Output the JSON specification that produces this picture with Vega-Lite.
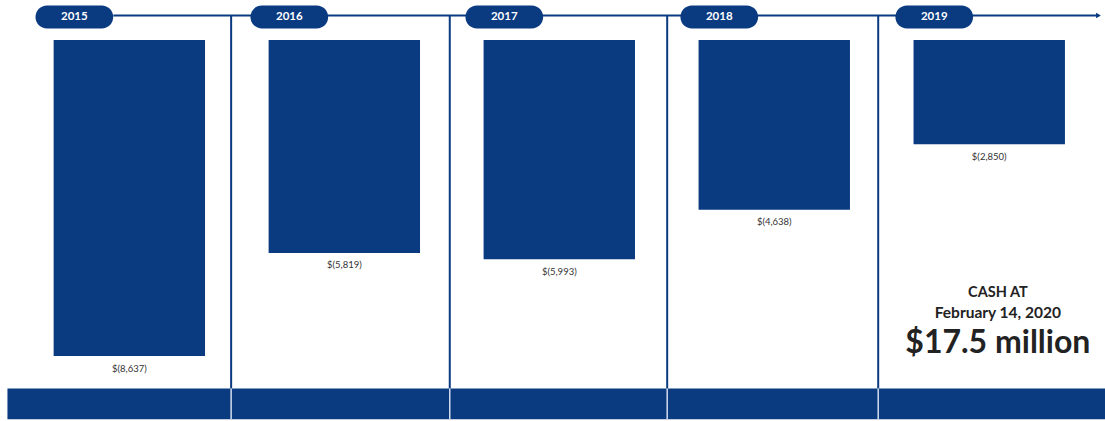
{
  "$schema": "https://vega.github.io/schema/vega-lite/v6.json",
  "width": 1105,
  "height": 421,
  "autosize": {"type": "none"},
  "padding": 0,
  "background": "white",
  "config": {"view": {"stroke": null}, "font": "Lato"},
  "datasets": {
    "losses": [
      {"year": 2015, "net_loss": -8637, "label": "$(8,637)"},
      {"year": 2016, "net_loss": -5819, "label": "$(5,819)"},
      {"year": 2017, "net_loss": -5993, "label": "$(5,993)"},
      {"year": 2018, "net_loss": -4638, "label": "$(4,638)"},
      {"year": 2019, "net_loss": -2850, "label": "$(2,850)"}
    ],
    "dividers": [
      {"boundary": 2015.4735},
      {"boundary": 2016.4905},
      {"boundary": 2017.5019},
      {"boundary": 2018.4835}
    ],
    "single": [{}]
  },
  "layer": [
    {
      "data": {"name": "single"},
      "mark": {"type": "rect", "color": "#0a3a80"},
      "encoding": {
        "x": {"datum": 2014.433, "type": "quantitative", "scale": {"domain": [2014.4216, 2019.5152], "nice": false, "zero": false}, "axis": null},
        "x2": {"datum": 2019.56},
        "y": {"datum": -9524, "type": "quantitative", "scale": {"domain": [-10412.7, 1093.2], "nice": false, "zero": false}, "axis": null},
        "y2": {"datum": -10366}
      }
    },
    {
      "data": {"name": "dividers"},
      "mark": {"type": "rule", "color": "#0a3a80", "strokeWidth": 2},
      "encoding": {
        "x": {"field": "boundary", "type": "quantitative", "axis": null},
        "y": {"datum": 669.6, "type": "quantitative", "axis": null},
        "y2": {"datum": -9524}
      }
    },
    {
      "data": {"name": "dividers"},
      "mark": {"type": "rule", "color": "#d3ddee", "strokeWidth": 1.5},
      "encoding": {
        "x": {"field": "boundary", "type": "quantitative", "axis": null},
        "y": {"datum": -9524, "type": "quantitative", "axis": null},
        "y2": {"datum": -10366}
      }
    },
    {
      "data": {"name": "single"},
      "mark": {"type": "rule", "color": "#0a3a80", "strokeWidth": 2},
      "encoding": {
        "x": {"datum": 2014.9255, "type": "quantitative", "axis": null},
        "x2": {"datum": 2019.51},
        "y": {"datum": 669.6, "type": "quantitative", "axis": null}
      }
    },
    {
      "data": {"name": "single"},
      "mark": {"type": "point", "shape": "triangle-right", "filled": true, "size": 30, "color": "#0a3a80", "opacity": 1},
      "encoding": {
        "x": {"datum": 2019.508, "type": "quantitative", "axis": null},
        "y": {"datum": 669.6, "type": "quantitative", "axis": null}
      }
    },
    {
      "data": {"name": "losses"},
      "mark": {"type": "bar", "color": "#0a3a80", "width": 151.4},
      "encoding": {
        "x": {"field": "year", "type": "quantitative", "axis": null},
        "y": {"field": "net_loss", "type": "quantitative", "axis": null},
        "y2": {"datum": 0}
      }
    },
    {
      "data": {"name": "losses"},
      "mark": {"type": "text", "baseline": "middle", "align": "center", "dy": 12.5, "fontSize": 9.5, "color": "#333333"},
      "encoding": {
        "x": {"field": "year", "type": "quantitative", "axis": null},
        "y": {"field": "net_loss", "type": "quantitative", "axis": null},
        "text": {"field": "label"}
      }
    },
    {
      "data": {"name": "losses"},
      "mark": {"type": "point", "filled": true, "opacity": 1, "color": "#0a3a80", "size": 6037, "xOffset": -55,
        "shape": "M-0.704,-0.296 L0.704,-0.296 A0.296,0.296 0 0 1 0.704,0.296 L-0.704,0.296 A0.296,0.296 0 0 1 -0.704,-0.296 Z"},
      "encoding": {
        "x": {"field": "year", "type": "quantitative", "axis": null},
        "y": {"datum": 628.6, "type": "quantitative", "axis": null}
      }
    },
    {
      "data": {"name": "losses"},
      "mark": {"type": "text", "baseline": "middle", "align": "center", "xOffset": -55, "fontSize": 11.5, "fontWeight": "bold", "color": "white"},
      "encoding": {
        "x": {"field": "year", "type": "quantitative", "axis": null},
        "y": {"datum": 628.6, "type": "quantitative", "axis": null},
        "text": {"field": "year", "type": "nominal"}
      }
    },
    {
      "data": {"name": "single"},
      "mark": {"type": "text", "baseline": "middle", "align": "center", "fontSize": 14.5, "fontWeight": "bold", "color": "#222222"},
      "encoding": {
        "x": {"datum": 2019.04, "type": "quantitative", "axis": null},
        "y": {"datum": -6922, "type": "quantitative", "axis": null},
        "text": {"value": "CASH AT"}
      }
    },
    {
      "data": {"name": "single"},
      "mark": {"type": "text", "baseline": "middle", "align": "center", "fontSize": 15.5, "fontWeight": "bold", "color": "#222222"},
      "encoding": {
        "x": {"datum": 2019.04, "type": "quantitative", "axis": null},
        "y": {"datum": -7469, "type": "quantitative", "axis": null},
        "text": {"value": "February 14, 2020"}
      }
    },
    {
      "data": {"name": "single"},
      "mark": {"type": "text", "baseline": "middle", "align": "center", "fontSize": 32, "fontWeight": "bold", "color": "#222222"},
      "encoding": {
        "x": {"datum": 2019.04, "type": "quantitative", "axis": null},
        "y": {"datum": -8281, "type": "quantitative", "axis": null},
        "text": {"value": "$17.5 million"}
      }
    }
  ]
}
